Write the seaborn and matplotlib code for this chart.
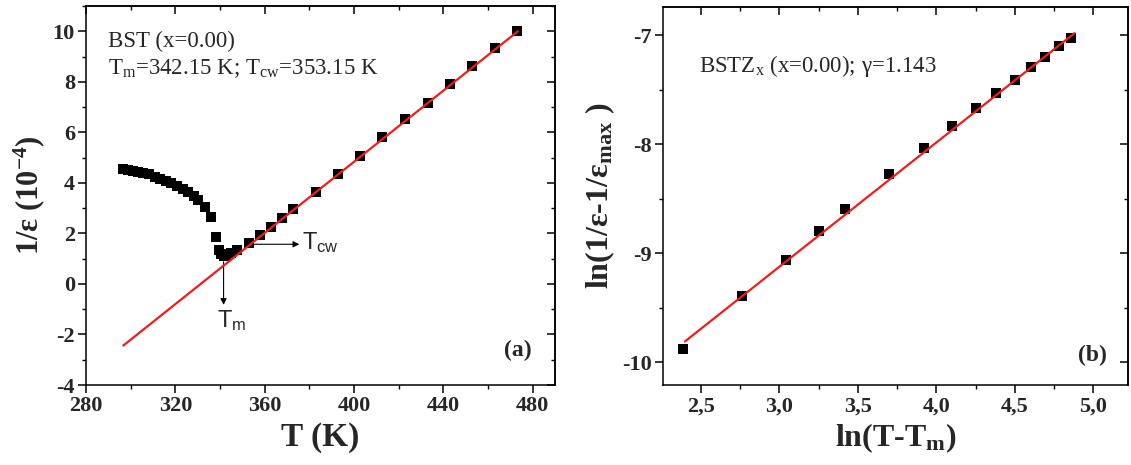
import matplotlib
matplotlib.use("Agg")
import matplotlib.pyplot as plt
import seaborn as sns
import pandas as pd
from matplotlib.ticker import MultipleLocator

# ---------------- data ----------------
# Panel (a): 1/eps (1e-4) vs T (K)
T_a = [296.7, 298.9, 301.1, 303.4, 305.6, 308.3, 310.8, 313.3, 316.0, 318.2,
       320.8, 323.4, 325.8, 328.2, 330.3, 333.1, 336.1, 338.3, 339.5, 340.6,
       341.6, 342.8, 345.0, 347.5, 352.9, 357.7, 362.7, 367.8, 372.9, 383.0,
       392.8, 402.9, 412.7, 422.9, 433.0, 442.8, 452.9, 463.0, 473.2]
inv_eps_a = [4.55, 4.51, 4.48, 4.44, 4.40, 4.34, 4.24, 4.15, 4.07, 3.98,
             3.87, 3.77, 3.64, 3.49, 3.32, 3.03, 2.66, 1.85, 1.34, 1.19,
             1.11, 1.13, 1.24, 1.34, 1.61, 1.94, 2.24, 2.60, 2.95, 3.65,
             4.35, 5.07, 5.80, 6.51, 7.18, 7.91, 8.63, 9.34, 10.00]
fit_a_T = [296.7, 473.4]
fit_a_y = [-2.44, 10.00]

# Panel (b): ln(1/eps - 1/eps_max) vs ln(T - Tm)
lnT_b = [2.39, 2.76, 3.04, 3.25, 3.42, 3.70, 3.92, 4.10, 4.25, 4.38,
         4.50, 4.60, 4.69, 4.78, 4.86]
lnE_b = [-9.88, -9.39, -9.06, -8.80, -8.59, -8.27, -8.03, -7.83, -7.67, -7.53,
         -7.41, -7.29, -7.20, -7.10, -7.02]
fit_b_x = [2.40, 4.88]
fit_b_y = [-9.81, -6.98]

xticks_a = [280, 320, 360, 400, 440, 480]
xticklabels_a = ["280", "320", "360", "400", "440", "480"]
yticks_a = [-4, -2, 0, 2, 4, 6, 8, 10]
yticklabels_a = ["-4", "-2", "0", "2", "4", "6", "8", "10"]
xticks_b = [2.5, 3.0, 3.5, 4.0, 4.5, 5.0]
xticklabels_b = ["2,5", "3,0", "3,5", "4,0", "4,5", "5,0"]
yticks_b = [-10, -9, -8, -7]
yticklabels_b = ["-10", "-9", "-8", "-7"]

# ---------------- style ----------------
sns.set_theme(style="ticks")
plt.rcParams["font.family"] = ["Liberation Serif", "DejaVu Serif"]
plt.rcParams["mathtext.fontset"] = "custom"
plt.rcParams["mathtext.rm"] = "Liberation Serif"
plt.rcParams["mathtext.it"] = "Liberation Serif:italic"
plt.rcParams["mathtext.bf"] = "Liberation Serif:bold"
plt.rcParams["mathtext.sf"] = "Liberation Sans"

fig = plt.figure(figsize=(11.31, 4.65), dpi=100)
ax1 = fig.add_axes([86 / 1131, 1 - 385 / 465, 469 / 1131, 379 / 465])
ax2 = fig.add_axes([663 / 1131, 1 - 385 / 465, 465 / 1131, 378 / 465])

df_a = pd.DataFrame({"T": T_a, "inv": inv_eps_a})
df_fa = pd.DataFrame({"T": fit_a_T, "inv": fit_a_y})
df_b = pd.DataFrame({"x": lnT_b, "y": lnE_b})
df_fb = pd.DataFrame({"x": fit_b_x, "y": fit_b_y})

marker_kw = dict(marker="s", s=44, color="black", edgecolor="black", linewidth=0, zorder=3)

sns.scatterplot(data=df_a, x="T", y="inv", ax=ax1, **marker_kw)
sns.lineplot(data=df_fa, x="T", y="inv", ax=ax1, color="#ee1c1c", linewidth=1.6, zorder=4)
sns.scatterplot(data=df_b, x="x", y="y", ax=ax2, **marker_kw)
sns.lineplot(data=df_fb, x="x", y="y", ax=ax2, color="#ee1c1c", linewidth=1.6, zorder=4)


def style_axes(ax, xlim, ylim, xt, xtl, yt, ytl, xminor, yminor):
    ax.set_xlim(*xlim)
    ax.set_ylim(*ylim)
    ax.set_xticks(xt)
    ax.set_xticklabels(xtl)
    ax.set_yticks(yt)
    ax.set_yticklabels(ytl)
    ax.xaxis.set_minor_locator(MultipleLocator(xminor))
    ax.yaxis.set_minor_locator(MultipleLocator(yminor))
    for s in ax.spines.values():
        s.set_visible(True)
        s.set_linewidth(1.1)
        s.set_color("black")
    ax.tick_params(which="major", direction="out", length=6, width=1.1, color="black",
                   labelsize=16, pad=2, top=False, right=False)
    ax.tick_params(which="minor", direction="out", length=3, width=1.0, color="black",
                   top=False, right=False)
    for lab in ax.get_xticklabels() + ax.get_yticklabels():
        lab.set_fontweight("bold")
    # inward ticks on top and right
    top = ax.secondary_xaxis("top")
    top.xaxis.set_ticks_position("top")
    top.set_xticks(xt)
    top.xaxis.set_minor_locator(MultipleLocator(xminor))
    top.tick_params(which="major", direction="in", length=6, width=1.1, color="black",
                    labeltop=False, top=True)
    top.tick_params(which="minor", direction="in", length=3, width=1.0, color="black",
                    top=True)
    right = ax.secondary_yaxis("right")
    right.yaxis.set_ticks_position("right")
    right.set_yticks(yt)
    right.yaxis.set_minor_locator(MultipleLocator(yminor))
    right.tick_params(which="major", direction="in", length=6, width=1.1, color="black",
                      labelright=False, right=True)
    right.tick_params(which="minor", direction="in", length=3, width=1.0, color="black",
                      right=True)
    for sp in list(top.spines.values()) + list(right.spines.values()):
        sp.set_linewidth(1.1)
        sp.set_color("black")
    ax.grid(False)


style_axes(ax1, (280, 490), (-4, 11), xticks_a, xticklabels_a, yticks_a, yticklabels_a, 20, 1)
style_axes(ax2, (2.26, 5.22), (-10.21, -6.74), xticks_b, xticklabels_b, yticks_b, yticklabels_b, 0.25, 0.5)

# labels
ax1.set_xlabel("T (K)", fontsize=24, fontweight="bold", labelpad=4)
ax1.set_ylabel(r"1/ε (10$^{\mathbf{-4}}$)", fontsize=22, fontweight="bold", labelpad=4)
ax2.set_xlabel(r"ln(T-T$_\mathbf{m}$)", fontsize=23, fontweight="bold", labelpad=4)
ax2.set_ylabel(r"ln(1/ε-1/ε$_\mathbf{max}$ )", fontsize=23, fontweight="bold", labelpad=4)

# annotations panel (a)
ax1.text(0.047, 0.892, "BST (x=0.00)", transform=ax1.transAxes, fontsize=16.5,
         va="baseline", ha="left")
ax1.text(0.047, 0.821, r"T$_\mathregular{m}$=342.15 K; T$_\mathregular{cw}$=353.15 K",
         transform=ax1.transAxes, fontsize=16.5, va="baseline", ha="left")
ax1.text(0.921, 0.092, "(a)", transform=ax1.transAxes, fontsize=17, fontweight="bold",
         ha="center", va="center")

arrow_kw = dict(arrowstyle="-|>", color="black", lw=0.8, mutation_scale=9,
                shrinkA=0, shrinkB=0)
ax1.annotate("", xy=(375.5, 1.57), xytext=(352.8, 1.57), arrowprops=arrow_kw)
ax1.annotate("", xy=(341.6, -0.83), xytext=(341.6, 0.88), arrowprops=arrow_kw)
ax1.text(376.9, 1.34, r"T$_\mathsf{cw}$", fontsize=17, family="Liberation Sans",
         va="baseline", ha="left")
ax1.text(338.6, -1.74, r"T$_\mathsf{m}$", fontsize=17, family="Liberation Sans",
         va="baseline", ha="left")

# annotations panel (b)
ax2.text(0.078, 0.845, r"BSTZ$_\mathregular{x}$ (x=0.00); γ=1.143", transform=ax2.transAxes,
         fontsize=16.5, va="center", ha="left")
ax2.text(0.923, 0.077, "(b)", transform=ax2.transAxes, fontsize=17, fontweight="bold",
         ha="center", va="center")

fig.savefig("out.png", dpi=100)
